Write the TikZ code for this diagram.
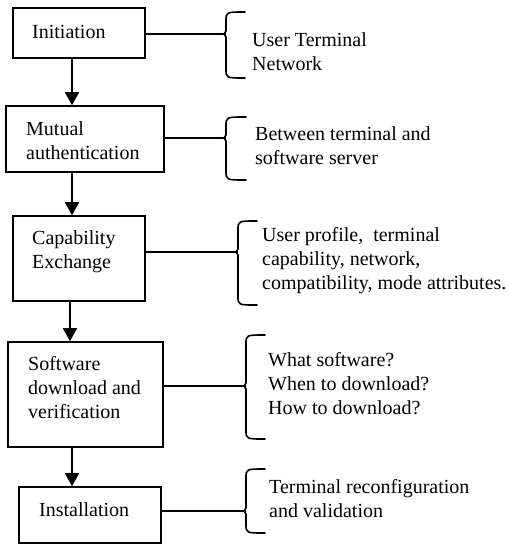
\documentclass[tikz,border=0pt]{standalone}
\usepackage{fontspec}
\setmainfont{Liberation Serif}
\usetikzlibrary{arrows.meta}
\newcommand\mybrkt[5]{%
  \draw[brk] (#5,#2) .. controls (#1,#2) .. (#1,#2+9) -- (#1,#3-3) -- (#1-2,#3) -- (#1,#3+3) -- (#1,#4-9) .. controls (#1,#4) .. (#5,#4);}
\tikzset{
  stepbox/.style={draw, line width=1.6pt, rectangle, inner sep=0pt},
  lbl/.style={font=\fontsize{20}{24}\selectfont, align=left, anchor=west, inner sep=0pt},
  arr/.style={line width=1.6pt, -{Triangle[width=14pt,length=13pt]}},
  link/.style={line width=1.6pt},
  brk/.style={line width=1.6pt, line cap=round, line join=round}
}
\begin{document}
\begin{tikzpicture}[x=1pt,y=-1pt]
\useasboundingbox (0,0) rectangle (508,544);
% boxes
\node[stepbox, minimum width=132pt, minimum height=50pt] (b1) at (79,33) {};
\node[stepbox, minimum width=158pt, minimum height=66pt] (b2) at (85,139) {};
\node[stepbox, minimum width=132pt, minimum height=85pt] (b3) at (79,258.5) {};
\node[stepbox, minimum width=155pt, minimum height=105pt] (b4) at (85.5,394.5) {};
\node[stepbox, minimum width=142pt, minimum height=56pt] (b5) at (90,515) {};
% box texts
\node[lbl] (t1) at (32,31.5) {Initiation};
\node[lbl] (t2) at (26,140.5) {Mutual\\authentication};
\node[lbl] (t3) at (32,252) {Capability\\Exchange};
\node[lbl] (t4) at (28,388) {Software\\download and\\verification};
\node[lbl] (t5) at (39,509.5) {Installation};
% arrows
\coordinate (ax1) at (72,0);
\coordinate (ax2) at (72,0);
\coordinate (ax3) at (70,0);
\coordinate (ax4) at (72,0);
\draw[arr] (b1.south -| ax1) -- (b2.north -| ax1);
\draw[arr] (b2.south -| ax2) -- (b3.north -| ax2);
\draw[arr] (b3.south -| ax3) -- (b4.north -| ax3);
\draw[arr] (b4.south -| ax4) -- (b5.north -| ax4);
% bracket tips
\coordinate (k1) at (226,34);
\coordinate (k2) at (226,138);
\coordinate (k3) at (238,252);
\coordinate (k4) at (246,386);
\coordinate (k5) at (246,511);
\draw[link] (b1.east |- k1) -- (k1);
\draw[link] (b2.east |- k2) -- (k2);
\draw[link] (b3.east |- k3) -- (k3);
\draw[link] (b4.east |- k4) -- (k4);
\draw[link] (b5.east |- k5) -- (k5);
% brackets
\mybrkt{226}{12}{34}{78}{245}
\mybrkt{226}{117}{138}{180}{246}
\mybrkt{238}{221}{252}{305}{257}
\mybrkt{246}{335}{386}{439}{265}
\mybrkt{246}{469}{511}{533}{265}
% bracket texts
\node[lbl] (r1) at (252,52) {User Terminal\\Network};
\node[lbl] (r2) at (255,146) {Between terminal and\\software server};
\node[lbl] (r3) at (262,261) {User profile,\ \ terminal\\capability, network,\\compatibility, mode attributes.};
\node[lbl] (r4) at (268,383.5) {What software?\\When to download?\\How to download?};
\node[lbl] (r5) at (269,498.5) {Terminal reconfiguration\\and validation};
\end{tikzpicture}
\end{document}
